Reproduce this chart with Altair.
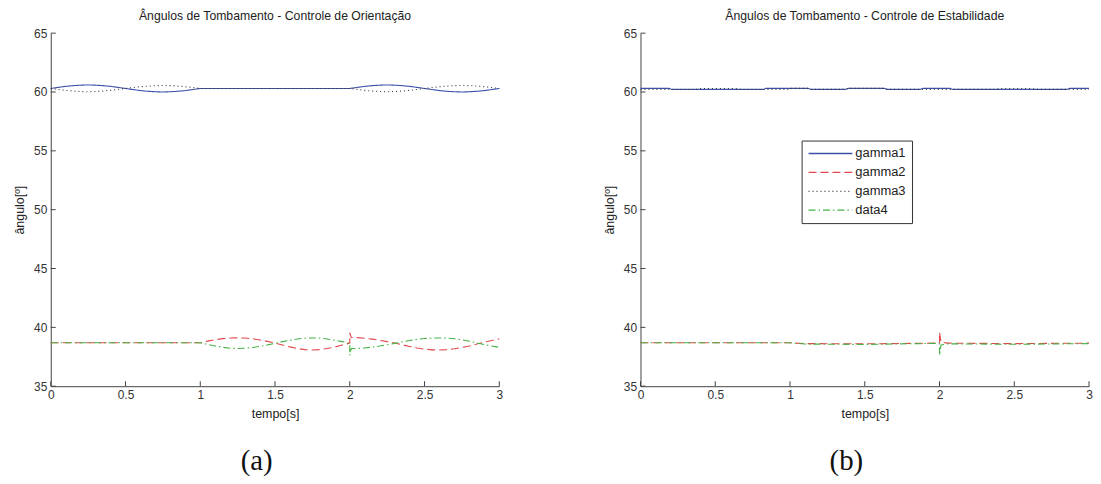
import altair as alt
import pandas as pd

# ---------------- data ----------------
SERIES = ["gamma1", "gamma2", "gamma3", "data4"]
COLORS = ["#3d4fa6", "#e2484b", "#333333", "#45b245"]
DASHES = [[1, 0], [8, 4], [1, 3], [7, 3, 1.5, 3]]

X_TICKS = [0, 0.5, 1, 1.5, 2, 2.5, 3]
Y_TICKS = [35, 40, 45, 50, 55, 60, 65]

TITLE_A = "Ângulos de Tombamento - Controle de Orientação"
TITLE_B = "Ângulos de Tombamento - Controle de Estabilidade"
CAPTION_A = "(a)"
CAPTION_B = "(b)"

# ---- panel (a) : upper pair (gamma1, gamma3) ----
a_up_t = [0.00, 0.05, 0.10, 0.15, 0.20, 0.25, 0.30, 0.35, 0.40, 0.45, 0.50,
          0.55, 0.60, 0.65, 0.70, 0.75, 0.80, 0.85, 0.90, 0.95, 1.00,
          2.00, 2.05, 2.10, 2.15, 2.20, 2.25, 2.30, 2.35, 2.40, 2.45, 2.50,
          2.55, 2.60, 2.65, 2.70, 2.75, 2.80, 2.85, 2.90, 2.95, 3.00]
a_gamma1 = [60.30, 60.39, 60.48, 60.54, 60.58, 60.60, 60.58, 60.54, 60.48, 60.39, 60.30,
            60.21, 60.12, 60.06, 60.02, 60.00, 60.02, 60.06, 60.12, 60.21, 60.30,
            60.30, 60.39, 60.48, 60.54, 60.58, 60.60, 60.58, 60.54, 60.48, 60.39, 60.30,
            60.21, 60.12, 60.06, 60.02, 60.00, 60.02, 60.06, 60.12, 60.21, 60.30]
a_gamma3 = [60.30, 60.22, 60.14, 60.08, 60.04, 60.02, 60.04, 60.08, 60.14, 60.22, 60.30,
            60.38, 60.45, 60.50, 60.54, 60.55, 60.54, 60.50, 60.45, 60.38, 60.30,
            60.30, 60.22, 60.14, 60.08, 60.04, 60.02, 60.04, 60.08, 60.14, 60.22, 60.30,
            60.38, 60.45, 60.50, 60.54, 60.55, 60.54, 60.50, 60.45, 60.38, 60.30]

# ---- panel (a) : lower pair (gamma2, data4) ----
a_low_t = [0.00, 1.00, 1.05, 1.10, 1.15, 1.20, 1.25, 1.30, 1.35, 1.40, 1.45, 1.50,
           1.55, 1.60, 1.65, 1.70, 1.75, 1.80, 1.85, 1.90, 1.95, 2.00,
           2.00, 2.01, 2.05, 2.10, 2.15, 2.20, 2.25, 2.30, 2.35, 2.40, 2.45, 2.50,
           2.55, 2.60, 2.65, 2.70, 2.75, 2.80, 2.85, 2.90, 2.95, 3.00]
a_gamma2 = [38.69, 38.69, 38.83, 38.95, 39.04, 39.09, 39.11, 39.09, 39.03, 38.93, 38.81, 38.66,
            38.50, 38.34, 38.20, 38.11, 38.08, 38.11, 38.20, 38.33, 38.50, 38.66,
            39.55, 39.15, 39.13, 39.08, 39.00, 38.90, 38.79, 38.67, 38.52, 38.38, 38.25, 38.15,
            38.09, 38.08, 38.11, 38.18, 38.29, 38.42, 38.58, 38.74, 38.89, 39.02]
a_data4 = [38.69, 38.69, 38.55, 38.42, 38.31, 38.23, 38.20, 38.22, 38.29, 38.39, 38.51, 38.65,
           38.79, 38.91, 39.01, 39.08, 39.10, 39.08, 39.01, 38.91, 38.79, 38.65,
           37.62, 38.20, 38.21, 38.25, 38.32, 38.41, 38.52, 38.64, 38.76, 38.88, 38.98, 39.05,
           39.09, 39.10, 39.08, 39.03, 38.94, 38.82, 38.68, 38.54, 38.41, 38.30]

# ---- panel (b) ----
b_gamma1_t = [0.00, 0.19, 0.21, 0.82, 0.84, 1.12, 1.14, 1.37, 1.39, 1.63, 1.65,
              1.87, 1.89, 2.07, 2.09, 2.85, 2.87, 3.00]
b_gamma1 = [60.31, 60.31, 60.22, 60.22, 60.31, 60.31, 60.22, 60.22, 60.31, 60.31, 60.22,
            60.22, 60.31, 60.31, 60.22, 60.22, 60.31, 60.31]
b_gamma3_t = [0.00, 0.19, 0.38, 0.40, 0.64, 0.66, 0.82, 0.98, 1.00, 1.12, 1.14, 1.37,
              1.39, 1.63, 1.65, 1.87, 1.89, 2.05, 2.09, 2.38, 2.40, 2.62, 2.64, 2.85,
              2.87, 3.00]
b_gamma3 = [60.21, 60.21, 60.22, 60.30, 60.30, 60.22, 60.21, 60.21, 60.31, 60.31, 60.22, 60.22,
            60.31, 60.31, 60.22, 60.22, 60.21, 60.21, 60.22, 60.22, 60.30, 60.30, 60.22, 60.22,
            60.21, 60.21]
b_low_t = [0.00, 1.00, 1.10, 1.50, 1.98, 2.00, 2.00, 2.01, 2.05, 2.50, 3.00]
b_gamma2 = [38.69, 38.69, 38.62, 38.60, 38.66, 38.68, 39.58, 38.75, 38.66, 38.62, 38.66]
b_data4 = [38.69, 38.69, 38.58, 38.55, 38.64, 38.60, 37.62, 38.50, 38.60, 38.56, 38.62]


def long_df(parts):
    rows = []
    for name, ts, vs in parts:
        for i, (t, v) in enumerate(zip(ts, vs)):
            rows.append({"s": name, "t": t, "v": v, "i": i})
    return pd.DataFrame(rows)


df_a = long_df([
    ("gamma1", a_up_t, a_gamma1),
    ("gamma2", a_low_t, a_gamma2),
    ("gamma3", a_up_t, a_gamma3),
    ("data4", a_low_t, a_data4),
])
df_b = long_df([
    ("gamma1", b_gamma1_t, b_gamma1),
    ("gamma2", b_low_t, b_gamma2),
    ("gamma3", b_gamma3_t, b_gamma3),
    ("data4", b_low_t, b_data4),
])

# ---------------- styling ----------------
W, H = 451, 355
AX = "#444444"
FONT = "Liberation Sans"
TICK = 5

X_ENC = alt.X("t:Q", title="tempo[s]",
              scale=alt.Scale(domain=[0, 3], nice=False),
              axis=alt.Axis(values=X_TICKS, format="~g", labelFlush=False,
                            labelPadding=3, titlePadding=7))
Y_ENC = alt.Y("v:Q", title="ângulo[º]",
              scale=alt.Scale(domain=[35, 65], nice=False, zero=False),
              axis=alt.Axis(values=Y_TICKS, labelPadding=4, titlePadding=7))


def panel(df, title, caption, legend):
    color = alt.Color("s:N", scale=alt.Scale(domain=SERIES, range=COLORS), legend=legend)
    dash = alt.StrokeDash("s:N", scale=alt.Scale(domain=SERIES, range=DASHES), legend=legend)
    lines = alt.Chart(df).mark_line(strokeWidth=1.1).encode(
        x=X_ENC, y=Y_ENC, color=color, strokeDash=dash, order="i:Q"
    )
    yt = alt.Chart(pd.DataFrame({"v": Y_TICKS})).mark_rule(color=AX, strokeWidth=1).encode(
        y=Y_ENC, x=alt.value(0), x2=alt.value(TICK)
    )
    xt = alt.Chart(pd.DataFrame({"t": X_TICKS})).mark_rule(color=AX, strokeWidth=1).encode(
        x=X_ENC, y=alt.value(H), y2=alt.value(H - TICK)
    )
    cap = alt.Chart(pd.DataFrame({"cap": [caption]})).mark_text(
        font="Liberation Serif", fontSize=29, color="#111111", baseline="middle"
    ).encode(text="cap:N", x=alt.value(207), y=alt.value(430))
    return alt.layer(lines, yt, xt, cap).properties(
        width=W, height=H,
        title=alt.TitleParams(title, fontSize=12.3, font=FONT, fontWeight="normal",
                              color="#222222", anchor="middle", offset=5),
    )


leg = alt.Legend(orient="none", legendX=162, legendY=108, title=None,
                 symbolType="M-3.667,0L3.667,0", symbolSize=144, symbolStrokeWidth=1.3,
                 symbolOffset=16, labelOffset=18,
                 labelFontSize=13, labelFont=FONT, labelColor="#222222",
                 strokeColor="#333333", fillColor="white", padding=6,
                 rowPadding=5)

pa = panel(df_a, TITLE_A, CAPTION_A, None)
pb = panel(df_b, TITLE_B, CAPTION_B, leg)

chart = alt.hconcat(pa, pb, spacing=100).resolve_scale(
    color="independent", strokeDash="independent"
).resolve_legend(
    color="independent", strokeDash="independent"
).properties(
    padding={"left": 5, "top": 0, "right": 0, "bottom": 0}
).configure_view(stroke=None).configure_axis(
    grid=False, ticks=False, domainColor=AX, domainWidth=1,
    labelFont=FONT, labelFontSize=12, labelColor="#333333",
    titleFont=FONT, titleFontSize=12.5, titleFontWeight="normal", titleColor="#222222",
)

chart.save("out.html", embed_options={"renderer": "svg", "actions": False})
